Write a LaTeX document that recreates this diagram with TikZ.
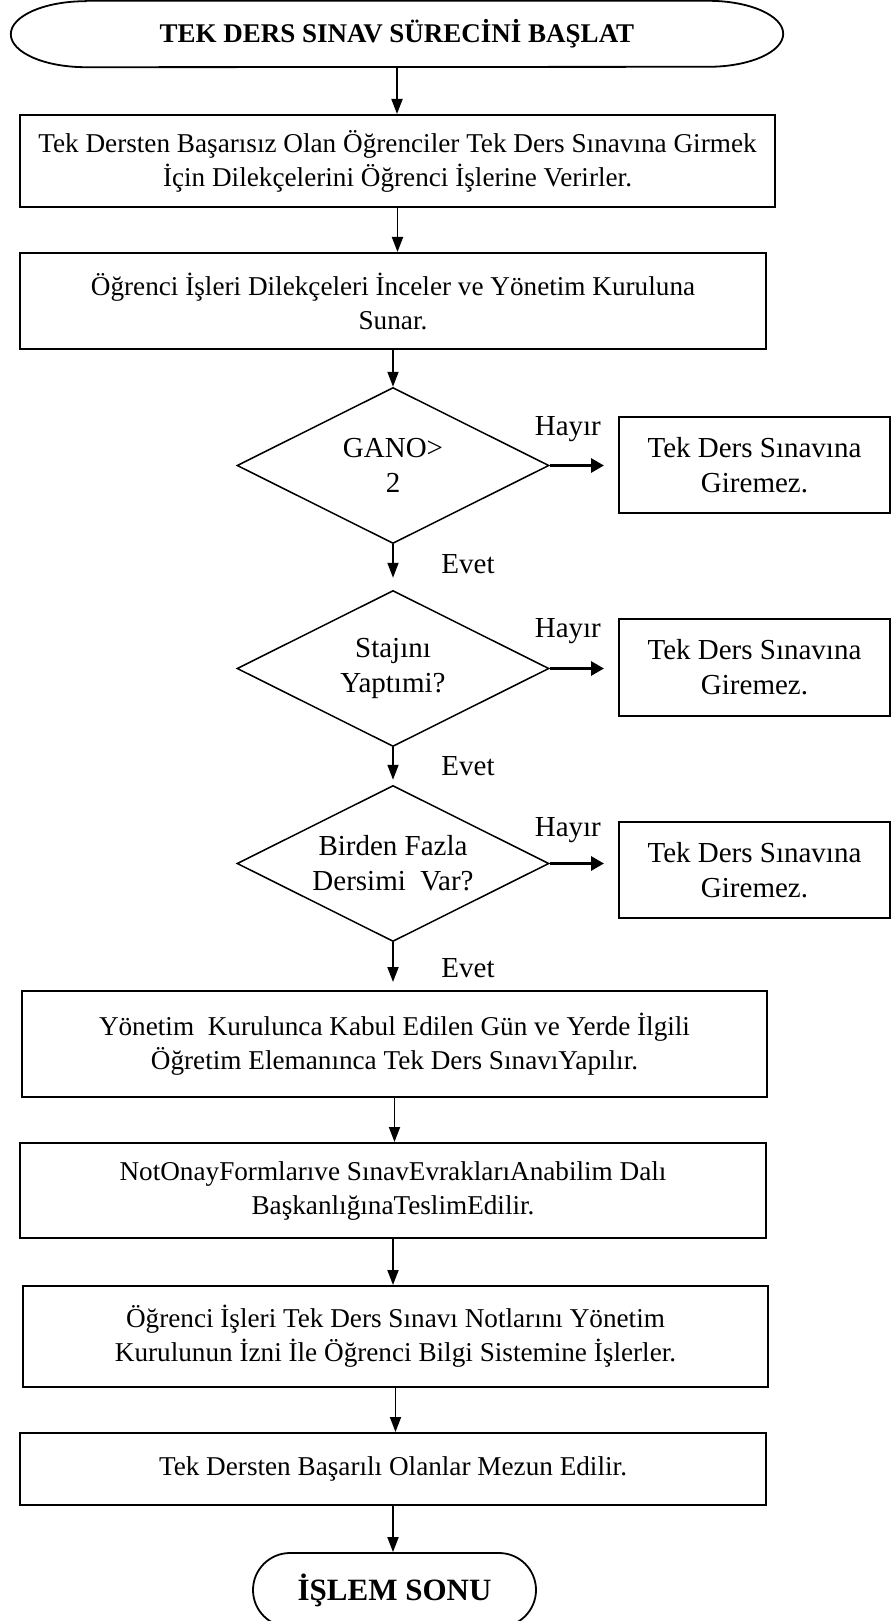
\documentclass[tikz,border=0pt]{standalone}
\usepackage{fontspec}
\setmainfont{Liberation Serif}
\usetikzlibrary{shapes.geometric,arrows.meta}
\begin{document}
\begin{tikzpicture}[x=1pt,y=-1pt,
  txt/.style={font=\fontsize{27.2pt}{34pt}\selectfont},
  big/.style={font=\fontsize{29pt}{35pt}\selectfont},
  stepbox/.style={draw, line width=2pt, inner sep=0pt, align=center, txt, minimum width=746pt},
  sidebox/.style={draw, line width=2pt, inner sep=0pt, align=center, big, minimum width=271pt, minimum height=96pt},
  decision/.style={diamond, draw, line width=1.5pt, inner sep=0pt, aspect=2, align=center, big,
                   minimum width=312pt, minimum height=156pt},
  flow/.style={line width=1.8pt, -{Triangle[length=15pt,width=11pt]}},
  nogo/.style={line width=3pt, -{Triangle[length=13pt,width=14pt]}},
  lab/.style={big},
]
\useasboundingbox[fill=white] (0,0) rectangle (892,1621);

% start terminal
\node[inner sep=0pt, minimum width=772pt, minimum height=66pt,
      font=\bfseries\fontsize{27pt}{32pt}\selectfont] (start) at (397,34)
      {TEK DERS SINAV SÜRECİNİ BAŞLAT};
\draw[line width=1.8pt] ([xshift=75pt]start.north west) -- ([xshift=-75pt]start.north east)
  arc[start angle=90, end angle=-90, x radius=75pt, y radius=33pt]
  -- ([xshift=75pt]start.south west)
  arc[start angle=270, end angle=90, x radius=75pt, y radius=33pt] -- cycle;

% process steps
\node[stepbox, minimum width=755pt, minimum height=92pt] (b1) at (397.5,161)
  {Tek Dersten Başarısız Olan Öğrenciler Tek Ders Sınavına Girmek\\İçin Dilekçelerini Öğrenci İşlerine Verirler.};
\node[stepbox, minimum height=96pt] (b2) at (393,301)
  {Öğrenci İşleri Dilekçeleri İnceler ve Yönetim Kuruluna\\Sunar.};

% decisions
\node[decision] (d1) at (393,465.5) {GANO>\\2};
\node[decision] (d2) at (393,668.5) {Stajını\\Yaptımi?};
\node[decision] (d3) at (393,863.5) {Birden Fazla\\Dersimi\ \ Var?};

% rejection boxes
\node[sidebox] (r1) at (754.5,465) {Tek Ders Sınavına\\Giremez.};
\node[sidebox, minimum height=97pt] (r2) at (754.5,667.5) {Tek Ders Sınavına\\Giremez.};
\node[sidebox] (r3) at (754.5,870) {Tek Ders Sınavına\\Giremez.};

\node[stepbox, minimum width=745pt, minimum height=106pt] (b4) at (394.5,1044)
  {Yönetim\ \ Kurulunca Kabul Edilen Gün ve Yerde İlgili\\Öğretim Elemanınca Tek Ders SınavıYapılır.};
\node[stepbox, minimum height=95pt] (b5) at (393,1190.5)
  {NotOnayFormlarıve SınavEvraklarıAnabilim Dalı\\BaşkanlığınaTeslimEdilir.};
\node[stepbox, minimum width=745pt, minimum height=101pt] (b6) at (395.5,1336.5)
  {Öğrenci İşleri Tek Ders Sınavı Notlarını Yönetim\\Kurulunun İzni İle Öğrenci Bilgi Sistemine İşlerler.};
\node[stepbox, minimum height=72pt] (b7) at (393,1469)
  {Tek Dersten Başarılı Olanlar Mezun Edilir.};

% end terminal
\node[draw, line width=1.8pt, rounded corners=37pt, minimum width=283pt, minimum height=74pt,
      inner sep=0pt, font=\bfseries\fontsize{31pt}{36pt}\selectfont] (end) at (394.5,1590)
      {İŞLEM SONU};

% main flow
\draw[flow] (start.south) -- (start.south |- b1.north);
\draw[flow] (b1.south) -- (b1.south |- b2.north);
\draw[flow] (b2.south) -- (b2.south |- d1.north);
\draw[flow, shorten >=12pt] (d1.south) -- node[lab, xshift=75pt, yshift=3pt] {Evet} (d2.north);
\draw[flow, shorten >=5pt] (d2.south) -- node[lab, xshift=75pt] {Evet} (d3.north);
\draw[flow, shorten >=8pt] (d3.south) -- node[lab, xshift=75pt, yshift=-2pt] {Evet} (d3.south |- b4.north);
\draw[flow] (b4.south) -- (b4.south |- b5.north);
\draw[flow] (b5.south) -- (b5.south |- b6.north);
\draw[flow] (b6.south) -- (b6.south |- b7.north);
\draw[flow] (b7.south) -- (b7.south |- end.north);

% rejection branches
\draw[nogo, shorten >=14pt] (d1.east) -- node[lab, xshift=-16pt, yshift=36pt] {Hayır} (d1.east -| r1.west);
\draw[nogo, shorten >=14pt] (d2.east) -- node[lab, xshift=-16pt, yshift=37pt] {Hayır} (d2.east -| r2.west);
\draw[nogo, shorten >=14pt] (d3.east) -- node[lab, xshift=-16pt, yshift=33pt] {Hayır} (d3.east -| r3.west);
\end{tikzpicture}
\end{document}
